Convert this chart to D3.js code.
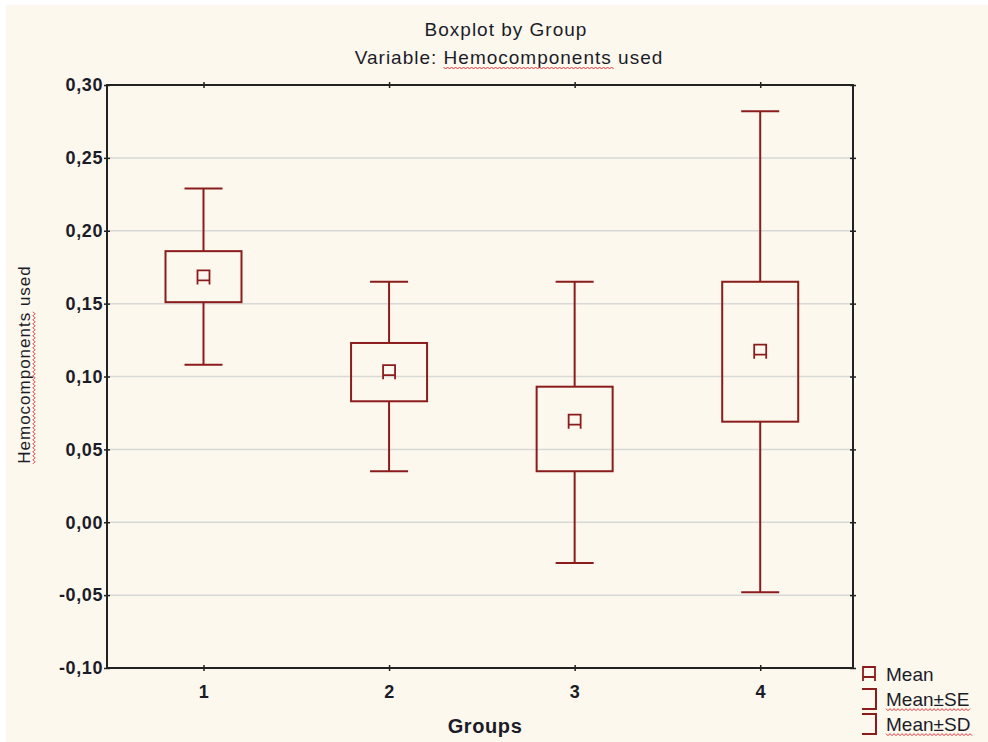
<!DOCTYPE html>
<html>
<head>
<meta charset="utf-8">
<script src="https://cdn.jsdelivr.net/npm/d3@7"></script>
<style>
  body { margin: 0; background: #fff; }
  svg { display: block; font-family: "Liberation Sans", Arial, sans-serif; }
</style>
</head>
<body>
<div id="chart"></div>
<script>
// values
const groups = ['1', '2', '3', '4']
const means  = [0.168, 0.103, 0.069, 0.117]
const seLow  = [0.151, 0.083, 0.035, 0.069]
const seHigh = [0.186, 0.123, 0.093, 0.165]
const sdLow  = [0.108, 0.035, -0.028, -0.048]
const sdHigh = [0.229, 0.165, 0.165, 0.282]
const yTicks = [-0.10, -0.05, 0.00, 0.05, 0.10, 0.15, 0.20, 0.25, 0.30]
const legendItems = ['Mean', 'Mean±SE', 'Mean±SD']

const width = 988, height = 742
const margin = { left: 107, top: 85, right: 135, bottom: 74 }
const boxColor = '#8b1c1c'
const textColor = '#1c1c28'
const bg = '#fdf8ee'

const svg = d3.select('#chart').append('svg')
  .attr('width', width)
  .attr('height', height)

svg.append('rect').attr('width', width).attr('height', height).attr('fill', '#fff')
svg.append('rect')
  .attr('x', 6).attr('y', 5)
  .attr('width', width - 6).attr('height', height - 5)
  .attr('fill', bg)

const scale = {
  x: d3.scaleLinear().domain([0.48, 4.5]).range([margin.left, width - margin.right]),
  y: d3.scaleLinear().domain([-0.1, 0.3]).range([height - margin.bottom, margin.top])
}
const fmt = v => {
  const s = Math.abs(v).toFixed(2).replace('.', ',')
  return (v < -1e-9 ? '-' : '') + s
}

// red spellcheck squiggle under chars [from, to) of a text node
const squiggle = (parent, textNode, from, to) => {
  const node = textNode.node()
  const x0 = node.getStartPositionOfChar(from).x
  const end = node.getExtentOfChar(to - 1)
  const x1 = end.x + end.width
  const y = node.getStartPositionOfChar(from).y + 3
  let d = `M${x0},${y}`
  for (let x = x0, i = 0; x < x1; x += 2, i++) {
    d += `L${x + 2},${y + (i % 2 ? 0 : 2)}`
  }
  parent.append('path')
    .attr('d', d)
    .attr('fill', 'none')
    .attr('stroke', '#e8303a')
    .attr('stroke-width', 1)
}

// gridlines
svg.append('g')
  .selectAll('line')
  .data(yTicks.filter(t => t > -0.1 && t < 0.3))
  .join('line')
  .attr('x1', margin.left).attr('x2', width - margin.right)
  .attr('y1', d => scale.y(d)).attr('y2', d => scale.y(d))
  .attr('stroke', '#d8d8d6')
  .attr('stroke-width', 1.5)

// axes (ticks on both sides of the frame)
const axisLeft = svg.append('g')
  .attr('transform', `translate(${margin.left},0)`)
  .call(d3.axisLeft(scale.y).tickValues(yTicks).tickFormat(fmt).tickSize(3).tickPadding(1))
const axisRight = svg.append('g')
  .attr('transform', `translate(${width - margin.right},0)`)
  .call(d3.axisRight(scale.y).tickValues(yTicks).tickFormat('').tickSize(3))
const axisBottom = svg.append('g')
  .attr('transform', `translate(0,${height - margin.bottom})`)
  .call(d3.axisBottom(scale.x).tickValues([1, 2, 3, 4]).tickFormat((d, i) => groups[i]).tickSize(3).tickPadding(14))
const axisTop = svg.append('g')
  .attr('transform', `translate(0,${margin.top})`)
  .call(d3.axisTop(scale.x).tickValues([1, 2, 3, 4]).tickFormat('').tickSize(3))

;[axisLeft, axisRight].forEach(a => a.selectAll('.tick line').attr('x1', -3).attr('x2', 3))
;[axisBottom, axisTop].forEach(a => a.selectAll('.tick line').attr('y1', -3).attr('y2', 3))
;[axisLeft, axisRight, axisBottom, axisTop].forEach(a => {
  a.select('.domain').remove()
  a.selectAll('.tick line').attr('stroke', '#222').attr('stroke-width', 1.5)
  a.selectAll('text')
    .attr('fill', textColor)
    .attr('font-size', 18)
    .attr('font-weight', 'bold')
    .attr('letter-spacing', 0.6)
    .attr('font-family', '"Liberation Sans", Arial, sans-serif')
})

// frame
svg.append('rect')
  .attr('x', margin.left).attr('y', margin.top)
  .attr('width', width - margin.right - margin.left)
  .attr('height', height - margin.bottom - margin.top)
  .attr('fill', 'none')
  .attr('stroke', '#222')
  .attr('stroke-width', 2)

// boxes
const boxW = 76, capW = 38
const meanPath = 'M-6,3V-7H6V3M-6,3V7M6,3V7M-6,3H6'

const box = svg.append('g')
  .attr('fill', 'none')
  .attr('stroke', boxColor)
  .attr('stroke-width', 2)
  .selectAll('g')
  .data(groups.map((g, i) => ({ g, i })))
  .join('g')
  .attr('transform', d => `translate(${scale.x(d.i + 1)},0)`)

box.append('line')
  .attr('y1', d => scale.y(sdHigh[d.i])).attr('y2', d => scale.y(seHigh[d.i]))
box.append('line')
  .attr('y1', d => scale.y(seLow[d.i])).attr('y2', d => scale.y(sdLow[d.i]))
box.append('line')
  .attr('x1', -capW / 2).attr('x2', capW / 2)
  .attr('y1', d => scale.y(sdHigh[d.i])).attr('y2', d => scale.y(sdHigh[d.i]))
box.append('line')
  .attr('x1', -capW / 2).attr('x2', capW / 2)
  .attr('y1', d => scale.y(sdLow[d.i])).attr('y2', d => scale.y(sdLow[d.i]))
box.append('rect')
  .attr('x', -boxW / 2).attr('width', boxW)
  .attr('y', d => scale.y(seHigh[d.i]))
  .attr('height', d => scale.y(seLow[d.i]) - scale.y(seHigh[d.i]))
box.append('path')
  .attr('stroke-width', 1.8)
  .attr('transform', d => `translate(0,${scale.y(means[d.i])})`)
  .attr('d', meanPath)

// titles
const title = svg.append('g')
  .attr('fill', textColor)
  .attr('text-anchor', 'middle')
  .attr('font-size', 19)
  .attr('letter-spacing', 1)
title.append('text').attr('x', 506).attr('y', 36).text('Boxplot by Group')
const sub = title.append('text').attr('x', 509).attr('y', 64).text('Variable: Hemocomponents used')
squiggle(title, sub, 10, 24)

svg.append('text')
  .attr('x', (margin.left + width - margin.right) / 2 + 5)
  .attr('y', 733)
  .attr('text-anchor', 'middle')
  .attr('font-size', 20)
  .attr('font-weight', 'bold')
  .attr('letter-spacing', 0.6)
  .attr('fill', textColor)
  .text('Groups')

const yTitleG = svg.append('g').attr('transform', `translate(30,${(margin.top + height - margin.bottom) / 2 - 12}) rotate(-90)`)
const yTitle = yTitleG.append('text')
  .attr('text-anchor', 'middle')
  .attr('font-size', 17)
  .attr('letter-spacing', 1)
  .attr('fill', textColor)
  .text('Hemocomponents used')
squiggle(yTitleG, yTitle, 0, 14)

// legend
const legend = svg.append('g').attr('transform', `translate(862,674)`)
const legendRow = 25
legendItems.forEach((name, i) => {
  const row = legend.append('g').attr('transform', `translate(0,${i * legendRow})`)
  if (i === 0) {
    row.append('path')
      .attr('d', meanPath)
      .attr('transform', 'translate(7,0)')
      .attr('fill', 'none')
      .attr('stroke', boxColor)
      .attr('stroke-width', 1.8)
  } else {
    row.append('path')
      .attr('d', 'M0,-10H14V10H0')
      .attr('fill', 'none')
      .attr('stroke', boxColor)
      .attr('stroke-width', 2)
  }
  const t = row.append('text')
    .attr('x', 24).attr('y', 0).attr('dy', '0.35em')
    .attr('font-size', 19)
    .attr('fill', textColor)
    .text(name)
  if (i > 0) squiggle(row, t, 0, name.length)
})
</script>
</body>
</html>
